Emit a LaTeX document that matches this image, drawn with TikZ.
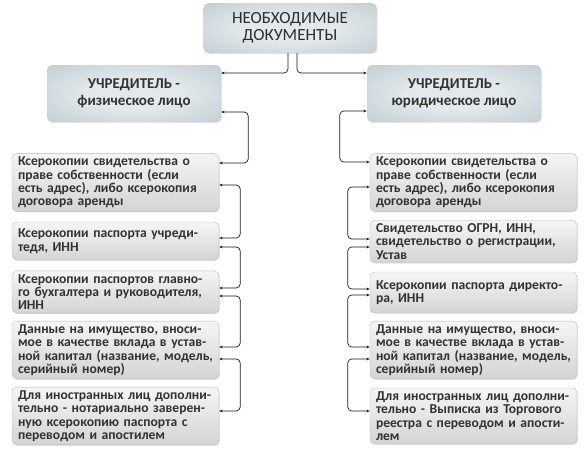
\documentclass[tikz,border=0pt]{standalone}
\usepackage{fontspec}
\setmainfont{Carlito}
\usetikzlibrary{arrows.meta,shadows}
\definecolor{schrift}{RGB}{50,50,50}
\definecolor{kopfinnen}{RGB}{226,232,235}
\definecolor{kopfmitte}{RGB}{188,202,208}
\definecolor{kopfaussen}{RGB}{134,153,162}
\definecolor{postenoben}{RGB}{245,245,245}
\definecolor{postenunten}{RGB}{212,212,212}
\definecolor{postenrand}{RGB}{188,188,188}
\definecolor{strich}{RGB}{25,25,25}
\pgfdeclareradialshading{kopfschein}{\pgfpoint{0bp}{0bp}}{color(0bp)=(kopfinnen); color(14bp)=(kopfinnen); color(40bp)=(kopfmitte); color(70bp)=(kopfaussen)}
\tikzset{
  kopf/.style={rectangle, rounded corners=5pt, shading=kopfschein, text=schrift!90!black, align=center,
    font=\fontsize{17}{17.5}\selectfont, drop shadow={opacity=0.2, shadow xshift=1pt, shadow yshift=-1pt}},
  gruender/.style={kopf, minimum width=174pt, minimum height=57pt, text=schrift, font=\bfseries\fontsize{15}{16.7}\selectfont},
  posten/.style={rectangle, rounded corners=5pt, top color=postenoben, bottom color=postenunten, draw=postenrand,
    text=schrift, align=left, inner xsep=6pt, text width=195pt, minimum width=207pt,
    font=\bfseries\fontsize{13.6}{13.4}\selectfont, drop shadow={opacity=0.2, shadow xshift=1pt, shadow yshift=-1pt}},
  pfeil/.style={strich, line width=0.7pt, rounded corners=4pt, -{Stealth[length=3.5pt,width=2.6pt]}},
  klammer/.style={pfeil, {Stealth[length=3.5pt,width=2.6pt]}-{Stealth[length=3.5pt,width=2.6pt]}}
}

\begin{document}
\begin{tikzpicture}[x=1pt, y=-1pt]

	\fill[white] (0,0) rectangle (585,455);
	\useasboundingbox (0,0) rectangle (585,455);

	\node[kopf, minimum width=173pt, minimum height=50pt] (kopf) at (290,28) {НЕОБХОДИМЫЕ\\ДОКУМЕНТЫ};
	\node[gruender] (links) at (134,93.5) {УЧРЕДИТЕЛЬ -\\физическое лицо};
	\node[gruender] (rechts) at (454,93.5) {УЧРЕДИТЕЛЬ -\\юридическое лицо};

	% physical person
	\node[posten, minimum height=55pt] (l1) at (115.5,182.5) {Ксерокопии свидетельства о\\праве собственности (если\\есть адрес), либо ксерокопия\\договора аренды};
	\node[posten, minimum height=38pt] (l2) at (115.5,241) {Ксерокопии паспорта учреди-\\тедя, ИНН};
	\node[posten, minimum height=40pt] (l3) at (115.5,292) {Ксерокопии паспортов главно-\\го бухгалтера и руководителя,\\ИНН};
	\node[posten, minimum height=56pt] (l4) at (115.5,350) {Данные на имущество, вноси-\\мое в качестве вклада в устав-\\ной капитал (название, модель,\\серийный номер)};
	\node[posten, minimum height=56pt] (l5) at (115.5,416) {Для иностранных лиц дополни-\\тельно - нотариально заверен-\\ную ксерокопию паспорта с\\переводом и апостилем};

	% legal person
	\node[posten, minimum height=55pt] (r1) at (473.5,182.5) {Ксерокопии свидетельства о\\праве собственности (если\\есть адрес), либо ксерокопия\\договора аренды};
	\node[posten, minimum height=39pt] (r2) at (473.5,241.5) {Свидетельство ОГРН, ИНН,\\свидетельство о регистрации,\\Устав};
	\node[posten, minimum height=41pt] (r3) at (473.5,292.5) {Ксерокопии паспорта директо-\\ра, ИНН};
	\node[posten, minimum height=56pt] (r4) at (473.5,350) {Данные на имущество, вноси-\\мое в качестве вклада в устав-\\ной капитал (название, модель,\\серийный номер)};
	\node[posten, minimum height=56pt] (r5) at (473.5,416) {Для иностранных лиц дополни-\\тельно - Выписка из Торгового\\реестра с переводом и апости-\\лем};

	\draw[pfeil] (kopf.south -| 288,0) |- (links.east |- 0,73);
	\draw[pfeil] (kopf.south -| 297,0) |- (rechts.west |- 0,73);

	\draw[klammer] (links.east |- 0,112) -- ++(27,0) |- (l1.east |- 0,163);
	\draw[klammer] (l1.east |- 0,185) -- ++(21,0) |- (l2.east |- 0,238);
	\draw[klammer] (l2.east |- 0,247) -- ++(21,0) |- (l3.east |- 0,288);
	\draw[klammer] (l3.east |- 0,296) -- ++(21,0) |- (l4.east |- 0,347);
	\draw[klammer] (l4.east |- 0,359) -- ++(21,0) |- (l5.east |- 0,411);

	\draw[klammer] (rechts.west |- 0,111) -- ++(-27,0) |- (r1.west |- 0,162);
	\draw[klammer] (r1.west |- 0,187) -- ++(-22,0) |- (r2.west |- 0,239);
	\draw[klammer] (r2.west |- 0,247) -- ++(-22,0) |- (r3.west |- 0,289);
	\draw[klammer] (r3.west |- 0,295) -- ++(-22,0) |- (r4.west |- 0,347);
	\draw[klammer] (r4.west |- 0,359) -- ++(-22,0) |- (r5.west |- 0,411);

\end{tikzpicture}
\end{document}
